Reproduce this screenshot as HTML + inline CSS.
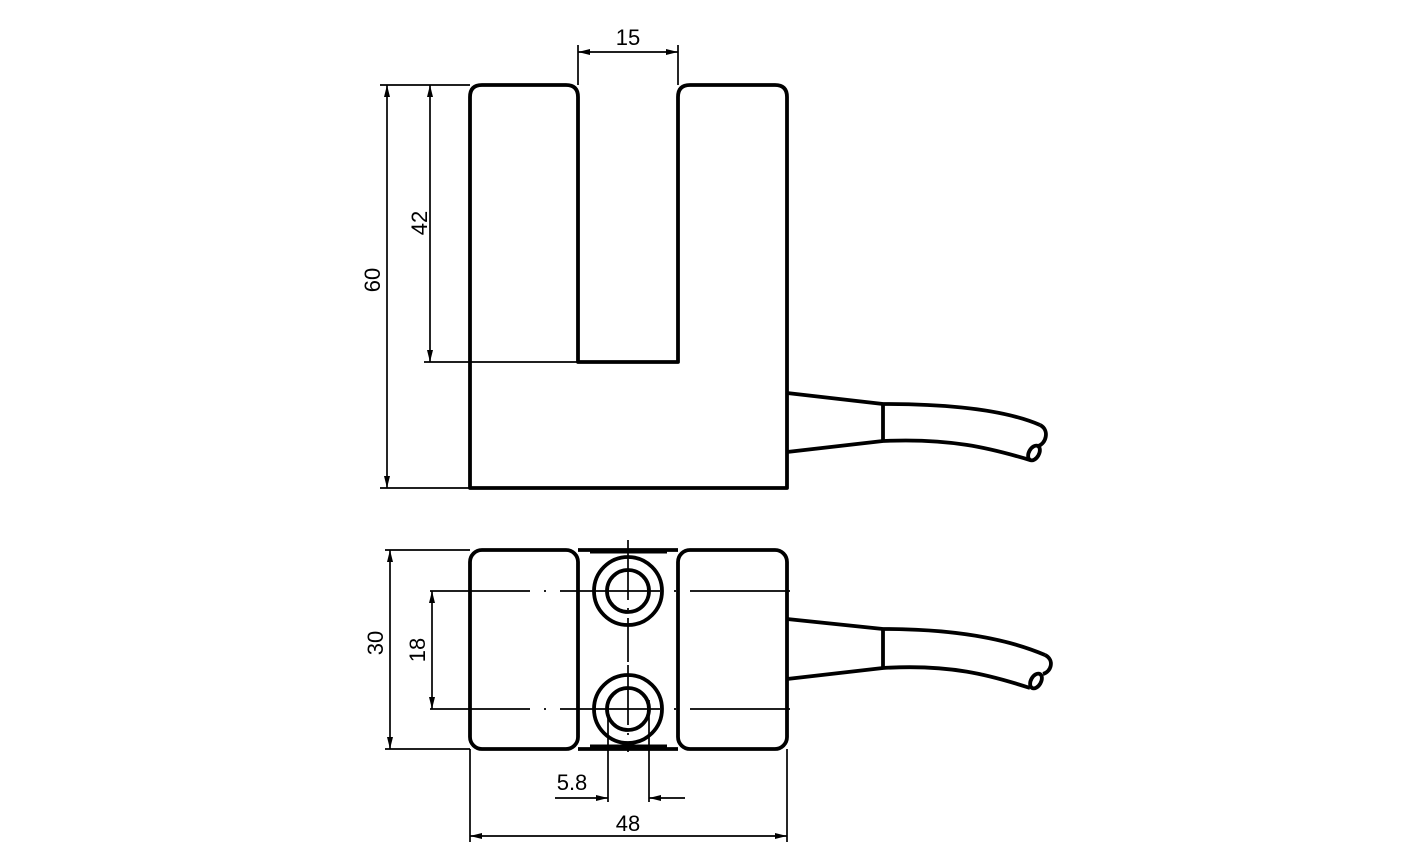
<!DOCTYPE html>
<html><head><meta charset="utf-8"><style>
html,body{margin:0;padding:0;background:#fff}
svg{display:block}
text{font-family:"Liberation Sans",sans-serif;font-size:22px;fill:#000}
</style></head><body>
<svg width="1417" height="862" viewBox="0 0 1417 862" xmlns="http://www.w3.org/2000/svg">
<defs>
<marker id="a" viewBox="0 0 12 6" refX="12" refY="3" markerWidth="12" markerHeight="6" orient="auto-start-reverse" markerUnits="userSpaceOnUse"><path d="M0,0 L12,3 L0,6 z" fill="#000"/></marker>
</defs>
<g fill="none" stroke="#000" stroke-width="3.8" stroke-linejoin="round">
<path d="M470,488 L470,97 Q470,85 482,85 L566,85 Q578,85 578,97 L578,362 L678,362 L678,97 Q678,85 690,85 L775,85 Q787,85 787,97 L787,488 Z"/>
<path d="M787,393 L883,404 C960,404 1010,412 1040,425"/>
<path d="M787,452 L883,441 C950,438 990,448 1030,460"/>
<path d="M883,404 L883,441"/>
<path d="M1040,425 C1050,430 1046,444 1038,446"/>
<ellipse cx="1034" cy="453" rx="5" ry="8" transform="rotate(30 1034 453)"/>
<rect x="470" y="550" width="108" height="199" rx="12"/>
<rect x="678" y="550" width="109" height="199" rx="12"/>
<path d="M578,550 L678,550 M578,749 L678,749"/>
<circle cx="628" cy="591" r="34"/>
<circle cx="628" cy="591" r="21"/>
<circle cx="628" cy="709" r="34"/>
<circle cx="628" cy="709" r="21"/>
<path d="M787,619 L883,629 C960,629 1010,640 1045,655"/>
<path d="M787,679 L883,668 C950,664 990,675 1030,688"/>
<path d="M883,629 L883,668"/>
<path d="M1045,655 C1055,660 1051,672 1043,674"/>
<ellipse cx="1036" cy="681" rx="5" ry="8" transform="rotate(30 1036 681)"/>
</g>
<g stroke="#000" stroke-width="5"><path d="M590,551 L667,551 M590,747 L667,747"/></g>
<g fill="none" stroke="#000" stroke-width="1.7">
<path d="M430,591 L795,591 M430,709 L795,709" stroke-dasharray="100,14,2,14"/>
<path d="M628,540 L628,662 M628,665 L628,752" stroke-dasharray="60,8,2,8"/>
<path d="M380,85 L470,85 M578,45 L578,85 M678,45 L678,85 M380,488 L470,488 M424,362 L578,362"/>
<path d="M387,488 L387,85" marker-end="url(#a)" marker-start="url(#a)"/>
<path d="M430,362 L430,85" marker-end="url(#a)" marker-start="url(#a)"/>
<path d="M578,52 L678,52" marker-end="url(#a)" marker-start="url(#a)"/>
<path d="M385,550 L470,550 M385,749 L470,749"/>
<path d="M390,749 L390,550" marker-end="url(#a)" marker-start="url(#a)"/>
<path d="M432,709 L432,591" marker-end="url(#a)" marker-start="url(#a)"/>
<path d="M608,700 L608,802 M649,700 L649,802 M470,749 L470,842 M787,749 L787,842"/>
<path d="M555,798 L608,798" marker-end="url(#a)"/>
<path d="M685,798 L649,798" marker-end="url(#a)"/>
<path d="M470,836 L787,836" marker-end="url(#a)" marker-start="url(#a)"/>
</g>
<text x="628" y="45" text-anchor="middle">15</text>
<text transform="translate(380,280) rotate(-90)" text-anchor="middle">60</text>
<text transform="translate(427,223) rotate(-90)" text-anchor="middle">42</text>
<text transform="translate(383,643) rotate(-90)" text-anchor="middle">30</text>
<text transform="translate(425,650) rotate(-90)" text-anchor="middle">18</text>
<text x="572" y="790" text-anchor="middle">5.8</text>
<text x="628" y="831" text-anchor="middle">48</text>
</svg>
</body></html>
